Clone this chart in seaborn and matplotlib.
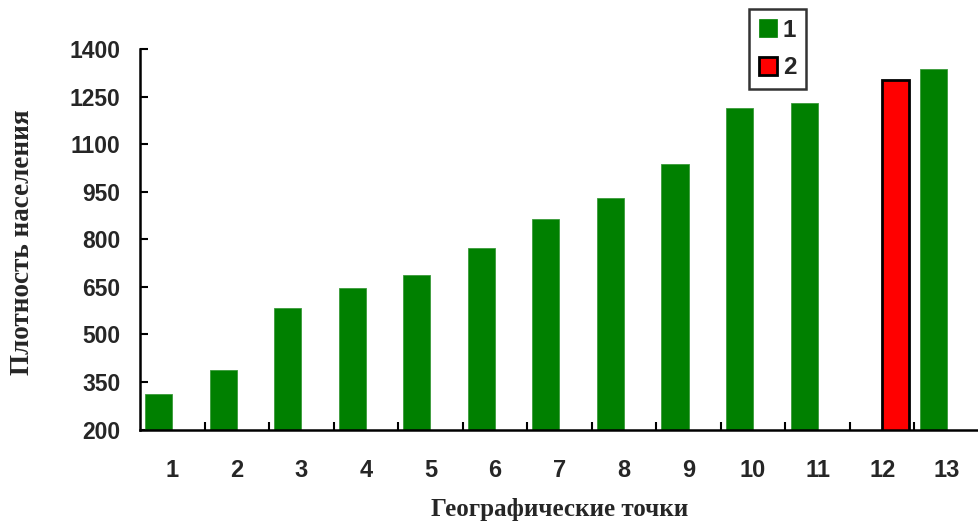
import numpy as np
import pandas as pd
import matplotlib
matplotlib.use("Agg")
import matplotlib.pyplot as plt
from matplotlib.patches import Patch
import seaborn as sns

# Population density by geographic point
points = [str(i) for i in range(1, 14)]
series_1 = [311, 388, 582, 648, 688, 773, 863, 929, 1037, 1213, 1229, np.nan, 1337]
series_2 = [np.nan] * 11 + [1304] + [np.nan]
series_names = ["1", "2"]
y_ticks = [200, 350, 500, 650, 800, 950, 1100, 1250, 1400]

green = "#008000"
red = "#ff0000"

df = pd.DataFrame({
    "point": points * 2,
    "value": series_1 + series_2,
    "series": [series_names[0]] * len(points) + [series_names[1]] * len(points),
})

sns.set_style("white")
plt.rcParams["font.family"] = ["Liberation Sans", "DejaVu Sans"]

fig = plt.figure(figsize=(9.79, 5.22), dpi=100)
ax = fig.add_axes([0.143, 0.177, 0.857, 0.729])

sns.barplot(
    data=df, x="point", y="value", hue="series", order=points,
    hue_order=series_names, palette={"1": green, "2": red},
    width=0.84, dodge=True, ax=ax, legend=False, saturation=1,
    edgecolor="#3a9a3a", linewidth=0.6,
)
for bar in ax.containers[1]:
    bar.set_edgecolor("black")
    bar.set_linewidth(2.0)

ax.set_xlim(-0.5, len(points) - 0.5)
ax.set_ylim(200, 1400)
ax.set_yticks(y_ticks)
ax.set_yticklabels([str(v) for v in y_ticks], fontsize=16.5, fontweight="bold")
ax.set_xticks(range(len(points)))
ax.set_xticklabels(points, fontsize=17, fontweight="bold")
ax.set_xticks(np.arange(0.5, len(points) - 0.5, 1.0), minor=True)

ax.tick_params(axis="x", which="major", length=0, pad=21)
ax.tick_params(axis="x", which="minor", direction="in", length=6, width=1.5,
               color="black", bottom=True)
ax.tick_params(axis="y", which="major", direction="in", length=6, width=1.5,
               color="black", pad=14, left=True)

for side in ("top", "right"):
    ax.spines[side].set_visible(False)
for side in ("left", "bottom"):
    ax.spines[side].set_color("black")
    ax.spines[side].set_linewidth(1.8)

ax.set_ylabel("Плотность населения", fontsize=19.5, family="Liberation Serif",
              fontweight="bold", va="center", rotation_mode="anchor")
ax.yaxis.set_label_coords(-0.14, 0.493)
ax.set_xlabel("Географические точки", fontsize=18, family="Liberation Serif",
              fontweight="bold", va="baseline")
ax.xaxis.set_label_coords(0.5, -0.228)

handles = [
    Patch(facecolor=green, edgecolor=green, linewidth=0.5),
    Patch(facecolor=red, edgecolor="black", linewidth=2.0),
]
leg = fig.legend(
    handles, series_names, loc="upper left", bbox_to_anchor=(0.765, 0.983),
    bbox_transform=fig.transFigure, borderaxespad=0, fancybox=False,
    frameon=True, edgecolor="black", prop={"size": 17.5, "weight": "bold"},
    handlelength=0.75, handleheight=0.75, handletextpad=0.25, borderpad=0.4,
    labelspacing=0.6,
)
leg.get_frame().set_linewidth(1.8)

fig.savefig("out.png", dpi=100)
